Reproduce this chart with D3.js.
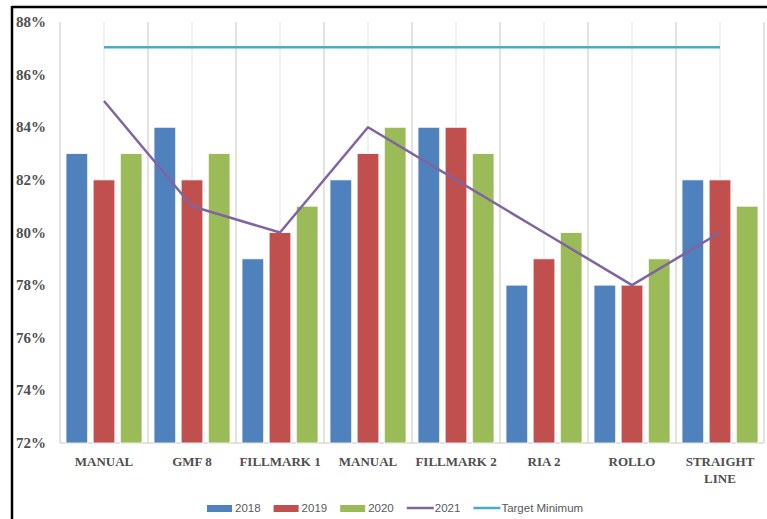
<!DOCTYPE html>
<html>
<head>
<meta charset="utf-8">
<script src="https://cdn.jsdelivr.net/npm/d3@7"></script>
<style>
    body { margin: 0; background: #fff; }
    #chart { width: 767px; height: 519px; }
    .cat-label { font-family: "Liberation Serif", serif; font-weight: bold; font-size: 13px; fill: #4f4f4f; }
    .y-label { font-family: "Liberation Serif", serif; font-weight: bold; font-size: 15px; fill: #4f4f4f; }
    .legend-text { font-family: "Liberation Sans", Arial, sans-serif; font-size: 11.5px; fill: #595959; }
</style>
</head>
<body>
<div id="chart"></div>
<script>

// data
const categories = ["MANUAL", "GMF 8", "FILLMARK 1", "MANUAL ", "FILLMARK 2", "RIA 2", "ROLLO", "STRAIGHT LINE"];
const values2018 = [83, 84, 79, 82, 84, 78, 78, 82];
const values2019 = [82, 82, 80, 83, 84, 79, 78, 82];
const values2020 = [83, 83, 81, 84, 83, 80, 79, 81];
const values2021 = [85, 81, 80, 84, 82, 80, 78, 80];
const targetMinimum = 87;
const yTicks = [72, 74, 76, 78, 80, 82, 84, 86, 88];
const barSeries = ["2018", "2019", "2020"];
const lineSeries = ["2021", "Target Minimum"];

const colors = {
    "2018": "#4f81bd",
    "2019": "#c0504d",
    "2020": "#9bbb59",
    "2021": "#8064a2",
    "Target Minimum": "#4bacc6"
};

class ComboChart {
    constructor(_parentElement) {
        this.parentElement = _parentElement;
        this.initvis();
    }

    initvis() {
        let vis = this;

        vis.W = 767;
        vis.H = 519;
        vis.margin = {top: 22, right: 3, bottom: 76, left: 60};
        vis.width = vis.W - vis.margin.left - vis.margin.right;
        vis.height = vis.H - vis.margin.top - vis.margin.bottom;

        vis.root = d3.select("#" + vis.parentElement).append("svg")
            .attr("width", vis.W)
            .attr("height", vis.H);

        // black frame (top and left)
        vis.root.append("line")
            .attr("x1", 12).attr("x2", vis.W)
            .attr("y1", 7).attr("y2", 7)
            .attr("stroke", "#000").attr("stroke-width", 2.5);
        vis.root.append("line")
            .attr("x1", 12).attr("x2", 12)
            .attr("y1", 6).attr("y2", vis.H)
            .attr("stroke", "#000").attr("stroke-width", 2.5);

        vis.svg = vis.root.append("g")
            .attr("transform", "translate(" + vis.margin.left + "," + vis.margin.top + ")");

        vis.x = d3.scaleBand()
            .domain(categories)
            .range([0, vis.width]);

        vis.xInner = d3.scaleBand()
            .domain(barSeries)
            .range([6, vis.x.bandwidth() - 6])
            .paddingInner(0.2);

        vis.y = d3.scaleLinear()
            .domain([72, 88])
            .range([vis.height, 0]);

        vis.wrangleData();
    }

    wrangleData() {
        let vis = this;

        vis.barData = categories.map((c, i) => ({
            category: c,
            values: [
                {key: "2018", value: values2018[i]},
                {key: "2019", value: values2019[i]},
                {key: "2020", value: values2020[i]}
            ]
        }));

        vis.lineData = categories.map((c, i) => ({category: c, value: values2021[i]}));

        vis.updateVis();
    }

    updateVis() {
        let vis = this;
        let bw = vis.x.bandwidth();

        // vertical gridlines at band edges and centres
        let gridX = [];
        categories.forEach(c => {
            gridX.push({x: vis.x(c), edge: true});
            gridX.push({x: vis.x(c) + bw / 2, edge: false});
        });
        gridX.push({x: vis.width, edge: true});

        vis.svg.selectAll(".grid")
            .data(gridX)
            .enter()
            .append("line")
            .attr("class", "grid")
            .attr("x1", d => d.x).attr("x2", d => d.x)
            .attr("y1", 0).attr("y2", vis.height)
            .attr("stroke", d => d.edge ? "#d9d9d9" : "#ececec")
            .attr("stroke-width", 1.5);

        vis.svg.append("line")
            .attr("x1", 0).attr("x2", vis.width)
            .attr("y1", vis.height).attr("y2", vis.height)
            .attr("stroke", "#d9d9d9")
            .attr("stroke-width", 1.5);

        // y labels
        vis.svg.selectAll(".y-label")
            .data(yTicks)
            .enter()
            .append("text")
            .attr("class", "y-label")
            .attr("x", -14)
            .attr("y", d => vis.y(d))
            .style("text-anchor", "end")
            .style("dominant-baseline", "central")
            .text(d => d + "%");

        // bars
        let groups = vis.svg.selectAll(".bar-group")
            .data(vis.barData)
            .enter()
            .append("g")
            .attr("class", "bar-group")
            .attr("transform", d => `translate(${vis.x(d.category)}, 0)`);

        groups.selectAll("rect")
            .data(d => d.values)
            .enter()
            .append("rect")
            .attr("x", d => vis.xInner(d.key))
            .attr("y", d => vis.y(d.value))
            .attr("width", vis.xInner.bandwidth())
            .attr("height", d => vis.height - vis.y(d.value))
            .attr("fill", d => colors[d.key])
            .attr("stroke", "#fff")
            .attr("stroke-width", 0.8);

        // target minimum line
        vis.svg.append("line")
            .attr("x1", vis.x(categories[0]) + bw / 2)
            .attr("x2", vis.x(categories[categories.length - 1]) + bw / 2)
            .attr("y1", vis.y(targetMinimum) - 1)
            .attr("y2", vis.y(targetMinimum) - 1)
            .attr("stroke", colors["Target Minimum"])
            .attr("stroke-width", 2.5);

        // 2021 line
        let line = d3.line()
            .x(d => vis.x(d.category) + bw / 2)
            .y(d => vis.y(d.value));

        vis.svg.append("path")
            .datum(vis.lineData)
            .attr("d", line)
            .attr("fill", "none")
            .attr("stroke", colors["2021"])
            .attr("stroke-width", 2.5)
            .attr("stroke-linejoin", "round");

        // category labels
        let labels = vis.svg.selectAll(".cat-label")
            .data(categories)
            .enter()
            .append("text")
            .attr("class", "cat-label")
            .attr("x", d => vis.x(d) + bw / 2)
            .attr("y", vis.height + 23)
            .style("text-anchor", "middle");

        labels.each(function (d) {
            let words = d.trim().split(" ");
            let el = d3.select(this);
            let cx = vis.x(d) + bw / 2;
            if (d.trim() === "STRAIGHT LINE") {
                el.append("tspan").attr("x", cx).attr("dy", 0).text(words[0]);
                el.append("tspan").attr("x", cx).attr("dy", 17).text(words[1]);
            } else {
                el.text(d.trim());
            }
        });

        // legend
        let legend = vis.root.append("g")
            .attr("transform", "translate(207, 508)");
        let lx = 0;
        barSeries.concat(lineSeries).forEach(k => {
            if (barSeries.includes(k)) {
                legend.append("rect")
                    .attr("x", lx).attr("y", -3)
                    .attr("width", 25).attr("height", 7)
                    .attr("fill", colors[k]);
            } else {
                legend.append("line")
                    .attr("x1", lx).attr("x2", lx + 27)
                    .attr("y1", 0).attr("y2", 0)
                    .attr("stroke", colors[k])
                    .attr("stroke-width", 2.5);
            }
            let t = legend.append("text")
                .attr("class", "legend-text")
                .attr("x", lx + 28)
                .attr("y", 0)
                .style("dominant-baseline", "central")
                .text(k);
            lx += 28 + t.node().getComputedTextLength() + 13;
        });
    }
}

new ComboChart("chart");

</script>
</body>
</html>
